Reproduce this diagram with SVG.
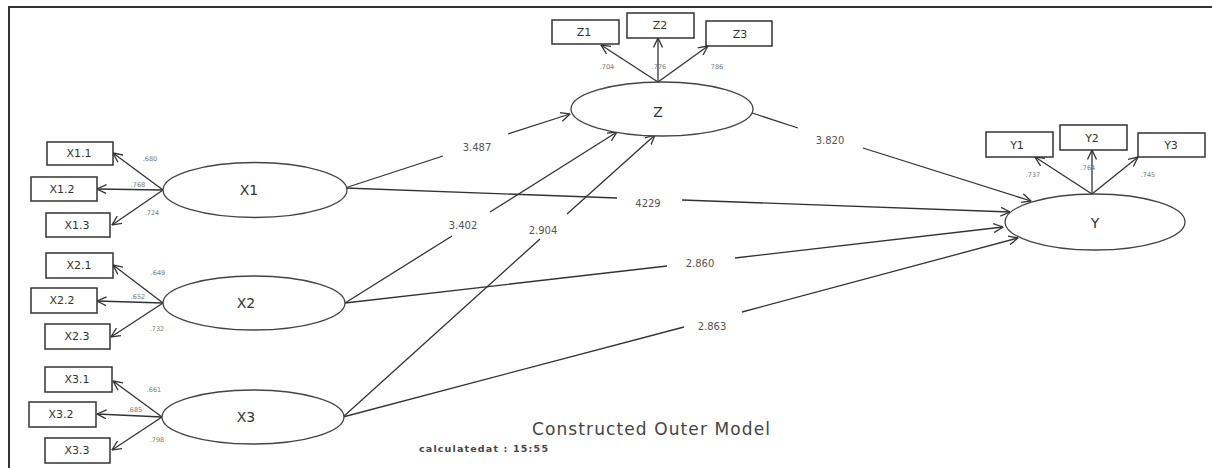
<svg xmlns="http://www.w3.org/2000/svg" width="1212" height="468" viewBox="0 0 1212 468">
<style>
.ln{stroke:#333;stroke-width:1.3;fill:none}
.box{fill:#fff;stroke:#333;stroke-width:1.5}
.ell{fill:#fff;stroke:#444;stroke-width:1.3}
text{font-family:"DejaVu Sans","Liberation Sans",Arial,sans-serif;text-anchor:middle}
.nl{font-size:14px;fill:#333}
.il{font-size:11px;fill:#333}
.ld{font-size:6.5px;fill:#777}
.pl{font-size:10px;fill:#555}
</style>
<defs>
<marker id="ah" viewBox="0 0 10 10" refX="9.5" refY="5" markerWidth="10" markerHeight="10" markerUnits="userSpaceOnUse" orient="auto">
<path d="M0,0.5 L9.5,5 L0,9.5" fill="none" stroke="#333" stroke-width="1.3"/>
</marker>
</defs>
<rect width="1212" height="468" fill="#fff"/>
<path d="M9,468 L9,7 L1212,7" fill="none" stroke="#333" stroke-width="2"/>

<g id="connectors">
<path class="ln" marker-end="url(#ah)" d="M163,190 L113,153"/>
<path class="ln" marker-end="url(#ah)" d="M163,190 L97,189"/>
<path class="ln" marker-end="url(#ah)" d="M163,190 L112,225"/>
<path class="ln" marker-end="url(#ah)" d="M163,303 L113,265"/>
<path class="ln" marker-end="url(#ah)" d="M163,303 L97,301"/>
<path class="ln" marker-end="url(#ah)" d="M163,303 L111,337"/>
<path class="ln" marker-end="url(#ah)" d="M162,417 L113,381"/>
<path class="ln" marker-end="url(#ah)" d="M162,417 L97,414"/>
<path class="ln" marker-end="url(#ah)" d="M162,417 L112,450"/>
<path class="ln" marker-end="url(#ah)" d="M658,82 L601,45"/>
<path class="ln" marker-end="url(#ah)" d="M658,82 L658,38"/>
<path class="ln" marker-end="url(#ah)" d="M658,82 L708,46"/>
<path class="ln" marker-end="url(#ah)" d="M1092,194 L1035,157"/>
<path class="ln" marker-end="url(#ah)" d="M1092,194 L1092,150"/>
<path class="ln" marker-end="url(#ah)" d="M1092,194 L1138,157"/>
<path class="ln" marker-end="url(#ah)" d="M345,188 L443,156 M508,134 L570,114"/>
<path class="ln" marker-end="url(#ah)" d="M345,188 L617,198 M682,200 L1010,212"/>
<path class="ln" marker-end="url(#ah)" d="M752,113 L798,128 M863,148 L1031,201"/>
<path class="ln" marker-end="url(#ah)" d="M345,303 L452,236 M490,212 L617,132"/>
<path class="ln" marker-end="url(#ah)" d="M343,417 L540,239 M567,214 L655,135"/>
<path class="ln" marker-end="url(#ah)" d="M345,303 L667,266 M735,258 L1003,227"/>
<path class="ln" marker-end="url(#ah)" d="M343,417 L684,327 M742,312 L1018,238"/>
</g>

<g id="X1"><ellipse class="ell" cx="255" cy="190" rx="92" ry="27.5"/><text class="nl" x="249" y="195">X1</text></g>
<g id="X2"><ellipse class="ell" cx="254" cy="303" rx="91" ry="27"/><text class="nl" x="246" y="308">X2</text></g>
<g id="X3"><ellipse class="ell" cx="253" cy="417" rx="91" ry="27"/><text class="nl" x="246" y="422">X3</text></g>
<g id="Z"><ellipse class="ell" cx="662" cy="109" rx="91" ry="27"/><text class="nl" x="658" y="117">Z</text></g>
<g id="Y"><ellipse class="ell" cx="1095" cy="222" rx="90" ry="28"/><text class="nl" x="1095" y="228">Y</text></g>

<g id="X1.1"><rect class="box" x="47" y="142" width="66" height="23"/><text class="il" x="79" y="157">X1.1</text></g>
<g id="X1.2"><rect class="box" x="31" y="177" width="66" height="24"/><text class="il" x="62" y="193">X1.2</text></g>
<g id="X1.3"><rect class="box" x="46" y="213" width="64" height="24"/><text class="il" x="77" y="229">X1.3</text></g>
<g id="X2.1"><rect class="box" x="46" y="253" width="67" height="25"/><text class="il" x="79" y="269">X2.1</text></g>
<g id="X2.2"><rect class="box" x="31" y="288" width="66" height="25"/><text class="il" x="62" y="304">X2.2</text></g>
<g id="X2.3"><rect class="box" x="45" y="324" width="65" height="25"/><text class="il" x="77" y="340">X2.3</text></g>
<g id="X3.1"><rect class="box" x="45" y="367" width="67" height="25"/><text class="il" x="77" y="383">X3.1</text></g>
<g id="X3.2"><rect class="box" x="29" y="402" width="67" height="25"/><text class="il" x="61" y="418">X3.2</text></g>
<g id="X3.3"><rect class="box" x="45" y="438" width="65" height="25"/><text class="il" x="77" y="454">X3.3</text></g>
<g id="Z1"><rect class="box" x="552" y="20" width="67" height="24"/><text class="il" x="584" y="36">Z1</text></g>
<g id="Z2"><rect class="box" x="627" y="13" width="67" height="25"/><text class="il" x="660" y="29">Z2</text></g>
<g id="Z3"><rect class="box" x="706" y="21" width="66" height="25"/><text class="il" x="740" y="38">Z3</text></g>
<g id="Y1"><rect class="box" x="986" y="132" width="67" height="25"/><text class="il" x="1017" y="149">Y1</text></g>
<g id="Y2"><rect class="box" x="1060" y="125" width="67" height="25"/><text class="il" x="1092" y="142">Y2</text></g>
<g id="Y3"><rect class="box" x="1138" y="133" width="67" height="24"/><text class="il" x="1171" y="149">Y3</text></g>

<g id="loadings">
<text class="ld" x="150" y="161">.680</text>
<text class="ld" x="138" y="187">.768</text>
<text class="ld" x="152" y="215">.724</text>
<text class="ld" x="158" y="275">.649</text>
<text class="ld" x="138" y="299">.652</text>
<text class="ld" x="157" y="331">.732</text>
<text class="ld" x="154" y="392">.661</text>
<text class="ld" x="135" y="412">.685</text>
<text class="ld" x="157" y="442">.798</text>
<text class="ld" x="607" y="69">.704</text>
<text class="ld" x="659" y="69">.776</text>
<text class="ld" x="717" y="69">786</text>
<text class="ld" x="1033" y="177">.737</text>
<text class="ld" x="1088" y="170">.764</text>
<text class="ld" x="1148" y="177">.745</text>
</g>

<g id="path-labels">
<text class="pl" x="477" y="151">3.487</text>
<text class="pl" x="648" y="207">4229</text>
<text class="pl" x="830" y="144">3.820</text>
<text class="pl" x="463" y="229">3.402</text>
<text class="pl" x="543" y="234">2.904</text>
<text class="pl" x="700" y="267">2.860</text>
<text class="pl" x="712" y="330">2.863</text>
</g>

<text x="532" y="435" style="text-anchor:start;font-size:17px;fill:#444" textLength="238" lengthAdjust="spacing">Constructed Outer Model</text>
<text x="419" y="452" style="text-anchor:start;font-size:9.5px;font-weight:bold;fill:#444" textLength="129" lengthAdjust="spacing">calculatedat : 15:55</text>
</svg>
